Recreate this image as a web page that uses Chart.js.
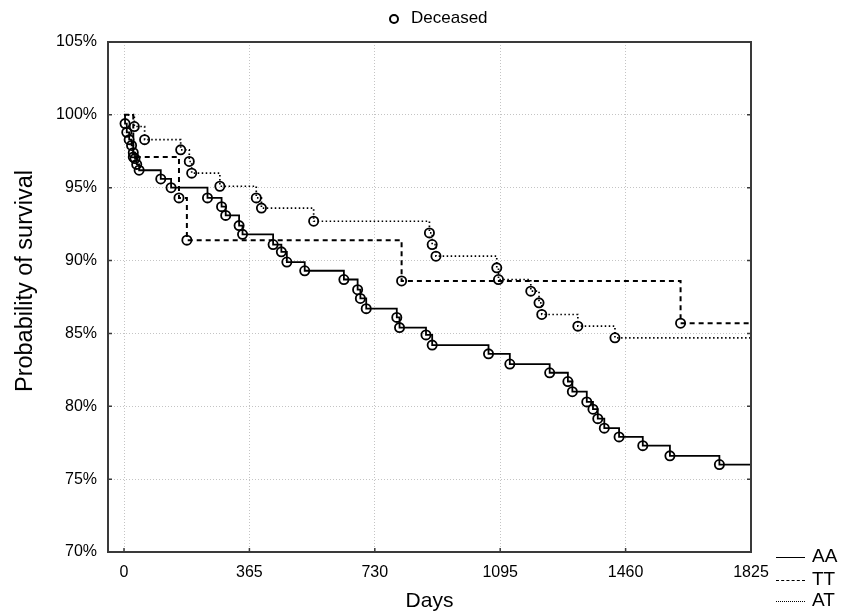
<!DOCTYPE html>
<html>
<head>
<meta charset="utf-8">
<script src="https://cdn.jsdelivr.net/npm/chart.js@4"></script>
<style>
  html, body { margin: 0; padding: 0; background: #fff; }
  #wrap { position: relative; width: 849px; height: 615px; font-family: "Liberation Sans", Arial, sans-serif; color: #000; }
  canvas { position: absolute; left: 0; top: 0; }
  .lg { position: absolute; font-size: 17px; line-height: 20px; white-space: nowrap; }
  .dot { position: absolute; width: 6px; height: 6px; border: 2px solid #000; border-radius: 50%; }
  .smp { position: absolute; width: 29px; height: 0; border-top-width: 1.8px; border-top-color: #000; }
  #ytitle { position: absolute; left: 24px; top: 281px; width: 300px; margin-left: -150px; margin-top: -14px;
            height: 28px; line-height: 28px; text-align: center; font-size: 23.5px; transform: rotate(-90deg); white-space: nowrap; }
</style>
</head>
<body>
<div id="wrap">
  <canvas id="c" width="849" height="615"></canvas>
  <div id="ytitle">Probability of survival</div>
  <div class="dot" style="left:389px; top:14px;"></div>
  <div class="lg" style="left:411px; top:8px;">Deceased</div>
  <div class="smp" style="left:776px; top:557px; border-top-style:solid;"></div>
  <div class="lg" style="left:812px; top:546px; font-size:19px;">AA</div>
  <div class="smp" style="left:776px; top:580px; border-top-style:dashed;"></div>
  <div class="lg" style="left:812px; top:569px; font-size:19px;">TT</div>
  <div class="smp" style="left:776px; top:601px; border-top-style:dotted;"></div>
  <div class="lg" style="left:812px; top:590px; font-size:19px;">AT</div>
</div>
<script>
// ---- data (days, survival %) ----
const AA_DAYS = [0, 3, 8, 15, 22, 27, 32, 37, 44, 107, 137, 243, 284, 296, 335, 345, 434, 458, 474, 526, 640, 680, 688, 705, 794, 802, 879, 897, 1061, 1123, 1239, 1292, 1305, 1347, 1365, 1379, 1398, 1441, 1510, 1589, 1733, 1825];
const AA_SURV = [100, 99.4, 98.8, 98.3, 97.9, 97.4, 97.0, 96.6, 96.2, 95.6, 95.0, 94.3, 93.7, 93.1, 92.4, 91.8, 91.1, 90.6, 89.9, 89.3, 88.7, 88.0, 87.4, 86.7, 86.1, 85.4, 84.9, 84.2, 83.6, 82.9, 82.3, 81.7, 81.0, 80.3, 79.8, 79.15, 78.5, 77.9, 77.3, 76.6, 76.0, 76.0];
const TT_DAYS = [0, 27, 160, 183, 808, 1620, 1825];
const TT_SURV = [100, 97.1, 94.3, 91.4, 88.6, 85.7, 85.7];
const AT_DAYS = [0, 30, 60, 165, 190, 197, 279, 385, 400, 552, 889, 897, 908, 1085, 1090, 1184, 1208, 1216, 1321, 1429, 1825];
const AT_SURV = [100, 99.2, 98.3, 97.6, 96.8, 96.0, 95.1, 94.3, 93.6, 92.7, 91.9, 91.1, 90.3, 89.5, 88.7, 87.9, 87.1, 86.3, 85.5, 84.7, 84.7];
const SERIES_LABELS = ['AA', 'TT', 'AT'];
const X_TICKS = [0, 365, 730, 1095, 1460, 1825];
const X_MIN = -46.6, X_MAX = 1825;
const Y_MIN = 70, Y_MAX = 105, Y_STEP = 5;

const FONT = '"Liberation Sans", Arial, sans-serif';

function pts(days, surv) { return days.map((d, i) => ({ x: d, y: surv[i] })); }
function radius(ctx) {
  const n = ctx.dataset.data.length;
  return (ctx.dataIndex === 0 || ctx.dataIndex === n - 1) ? 0 : 4.6;
}
function ds(label, days, surv, dash, width) {
  return {
    label, data: pts(days, surv), stepped: 'before',
    borderColor: '#000', borderWidth: width, borderDash: dash,
    pointRadius: radius, pointHoverRadius: radius, pointBorderWidth: 1.8,
    pointBorderColor: '#000', pointBackgroundColor: 'rgba(255,255,255,0)',
    fill: false
  };
}

const frame = {
  id: 'frame',
  afterDatasetsDraw(chart) {
    const { ctx, chartArea: a, scales } = chart;
    ctx.save();
    ctx.strokeStyle = '#3a3a3a';
    ctx.lineWidth = 2;
    ctx.strokeRect(a.left, a.top, a.right - a.left, a.bottom - a.top);
    ctx.lineWidth = 1.5;
    ctx.beginPath();
    scales.y.ticks.forEach(t => {
      const y = scales.y.getPixelForValue(t.value);
      ctx.moveTo(a.left, y); ctx.lineTo(a.left + 4, y);
      ctx.moveTo(a.right, y); ctx.lineTo(a.right - 4, y);
    });
    scales.x.ticks.forEach(t => {
      const x = scales.x.getPixelForValue(t.value);
      ctx.moveTo(x, a.bottom); ctx.lineTo(x, a.bottom - 4);
    });
    ctx.stroke();
    ctx.restore();
  }
};

new Chart(document.getElementById('c'), {
  type: 'line',
  data: {
    datasets: [
      ds(SERIES_LABELS[0], AA_DAYS, AA_SURV, [], 1.8),
      ds(SERIES_LABELS[1], TT_DAYS, TT_SURV, [5, 4], 2),
      ds(SERIES_LABELS[2], AT_DAYS, AT_SURV, [1.5, 2.5], 1.7)
    ]
  },
  options: {
    responsive: false,
    animation: false,
    layout: { padding: { left: 0, right: 98, top: 42, bottom: 0 } },
    plugins: { legend: { display: false }, tooltip: { enabled: false } },
    scales: {
      x: {
        type: 'linear', min: X_MIN, max: X_MAX,
        afterBuildTicks: s => { s.ticks = X_TICKS.map(v => ({ value: v })); },
        afterFit: s => { s.height = 63; },
        ticks: { autoSkip: false, maxRotation: 0, padding: 11, color: '#000', font: { family: FONT, size: 16 }, callback: v => String(v) },
        grid: { color: '#c4c4c4', lineWidth: 1, drawTicks: false },
        border: { display: false, dash: [1, 2] },
        title: { display: true, text: 'Days', color: '#000', font: { family: FONT, size: 21 }, padding: { top: 0, bottom: 1 } }
      },
      y: {
        min: Y_MIN, max: Y_MAX,
        afterFit: s => { s.width = 108; },
        ticks: { stepSize: Y_STEP, padding: 11, color: '#000', font: { family: FONT, size: 16 }, callback: v => v + '%' },
        grid: { color: '#c4c4c4', lineWidth: 1, drawTicks: false },
        border: { display: false, dash: [1, 2] },
        title: { display: false }
      }
    }
  },
  plugins: [frame]
});
</script>
</body>
</html>
